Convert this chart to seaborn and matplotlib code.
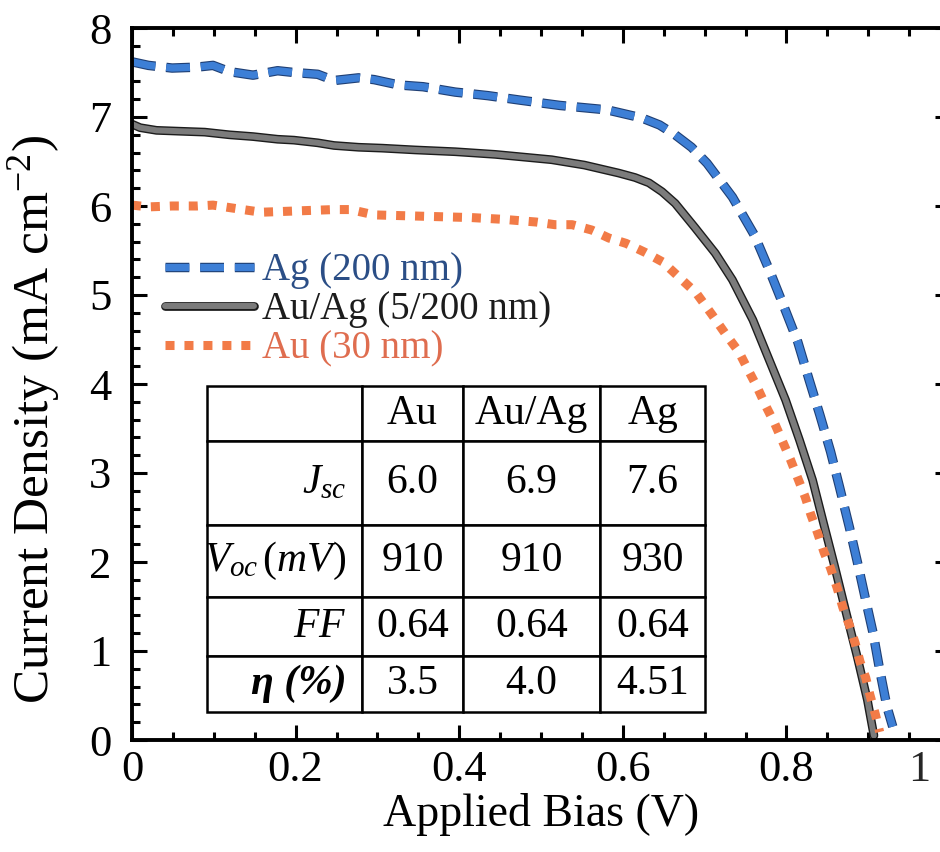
import matplotlib
matplotlib.use("Agg")
import matplotlib.pyplot as plt
import matplotlib.patheffects as pe
from matplotlib.ticker import MultipleLocator
from matplotlib.transforms import offset_copy
import seaborn as sns

# ==========================================
# Data
# ==========================================

bias_ag = [0.000, 0.020, 0.049, 0.079, 0.099, 0.119, 0.148, 0.178, 0.198, 0.227,
           0.247, 0.277, 0.296, 0.326, 0.356, 0.395, 0.435, 0.474, 0.523, 0.581,
           0.623, 0.645, 0.664, 0.684, 0.703, 0.734, 0.761, 0.780, 0.797, 0.814,
           0.828, 0.841, 0.854, 0.865, 0.877, 0.887, 0.897, 0.906, 0.914, 0.923,
           0.930]
j_ag = [7.62, 7.58, 7.55, 7.56, 7.58, 7.51, 7.47, 7.52, 7.50, 7.48,
        7.41, 7.44, 7.42, 7.36, 7.34, 7.28, 7.24, 7.19, 7.13, 7.08,
        6.99, 6.91, 6.80, 6.66, 6.48, 6.10, 5.67, 5.26, 4.87, 4.47,
        4.04, 3.65, 3.24, 2.84, 2.39, 1.99, 1.57, 1.20, 0.79, 0.37,
        0.15]

bias_auag = [0.000, 0.010, 0.030, 0.059, 0.089, 0.119, 0.148, 0.178, 0.198, 0.227,
             0.247, 0.277, 0.306, 0.346, 0.395, 0.444, 0.513, 0.553, 0.595, 0.615,
             0.632, 0.648, 0.664, 0.688, 0.713, 0.734, 0.759, 0.779, 0.799, 0.816,
             0.832, 0.845, 0.859, 0.873, 0.887, 0.899, 0.907]
j_auag = [6.92, 6.88, 6.85, 6.84, 6.83, 6.80, 6.78, 6.75, 6.74, 6.71,
          6.68, 6.66, 6.65, 6.63, 6.61, 6.58, 6.52, 6.46, 6.37, 6.32,
          6.26, 6.16, 6.03, 5.76, 5.47, 5.17, 4.72, 4.27, 3.82, 3.37,
          2.92, 2.45, 1.95, 1.43, 0.92, 0.45, 0.05]

bias_au = [0.000, 0.020, 0.049, 0.079, 0.099, 0.128, 0.158, 0.188, 0.217, 0.247,
           0.267, 0.296, 0.336, 0.375, 0.415, 0.454, 0.494, 0.517, 0.538, 0.562,
           0.583, 0.604, 0.627, 0.649, 0.670, 0.690, 0.709, 0.725, 0.742, 0.752,
           0.764, 0.775, 0.786, 0.796, 0.805, 0.814, 0.823, 0.830, 0.838, 0.846,
           0.854, 0.862, 0.869, 0.877, 0.884, 0.890, 0.897, 0.902, 0.909, 0.914]
j_au = [6.01, 5.99, 6.00, 6.00, 6.01, 5.97, 5.93, 5.94, 5.95, 5.96,
        5.96, 5.90, 5.89, 5.88, 5.87, 5.85, 5.82, 5.79, 5.79, 5.73,
        5.64, 5.58, 5.48, 5.37, 5.19, 5.02, 4.78, 4.57, 4.36, 4.18,
        3.97, 3.75, 3.55, 3.34, 3.15, 2.94, 2.73, 2.53, 2.33, 2.11,
        1.93, 1.71, 1.49, 1.29, 1.09, 0.88, 0.70, 0.51, 0.28, 0.09]

legend_labels = ["Ag (200 nm)", "Au/Ag (5/200 nm)", "Au (30 nm)"]

x_ticks = [0, 0.2, 0.4, 0.6, 0.8, 1.0]
x_tick_labels = ["0", "0.2", "0.4", "0.6", "0.8", "1"]
y_ticks = [0, 1, 2, 3, 4, 5, 6, 7, 8]
y_tick_labels = ["0", "1", "2", "3", "4", "5", "6", "7", "8"]

table_header = ["", "Au", "Au/Ag", "Ag"]
table_params = [r"$J_{sc}$", r"$V_{oc}\,(mV)$", r"$FF$", "\u03b7 (%)"]
jsc = ["6.0", "6.9", "7.6"]
voc = ["910", "910", "930"]
ff = ["0.64", "0.64", "0.64"]
eta = ["3.5", "4.0", "4.51"]

# ==========================================
# Style
# ==========================================

sns.set_theme(style="ticks")
plt.rcParams["font.family"] = ["Liberation Serif", "DejaVu Serif"]
plt.rcParams["mathtext.fontset"] = "custom"
plt.rcParams["mathtext.rm"] = "Liberation Serif"
plt.rcParams["mathtext.it"] = "Liberation Serif:italic"
plt.rcParams["mathtext.bf"] = "Liberation Serif:bold"

blue = "#3d7fd6"
grey = "#7b7b7b"
orange = "#f27b47"
text_colors = ["#2b4e86", "#1c1c1c", "#df6d4f"]

# ==========================================
# Plot
# ==========================================

fig = plt.figure(figsize=(9.4, 8.52), dpi=100)
ax = fig.add_axes([132 / 940, 112 / 852, 818 / 940, 712 / 852])

sns.lineplot(
    x=bias_ag, y=j_ag, ax=ax,
    color=blue, linewidth=5.2, linestyle=(0, (3.3, 1.5)),
    estimator=None, sort=False, label=legend_labels[0],
    path_effects=[pe.Stroke(linewidth=6.8, foreground="#1f3f74"), pe.Normal()]
)

sns.lineplot(
    x=bias_auag, y=j_auag, ax=ax,
    color=grey, linewidth=4.3,
    estimator=None, sort=False, label=legend_labels[1],
    path_effects=[pe.Stroke(linewidth=6.3, foreground="#1c1c1c"), pe.Normal()]
)

sns.lineplot(
    x=bias_au, y=j_au, ax=ax,
    color=orange, linewidth=6.5, linestyle=(0, (1, 1.1)),
    estimator=None, sort=False, label=legend_labels[2]
)

ax.set_xlim(0, 1)
ax.set_ylim(0, 8)

ax.set_xticks(x_ticks)
ax.set_xticklabels(x_tick_labels)
ax.get_xticklabels()[-1].set_visible(False)
ax.set_yticks(y_ticks)
ax.set_yticklabels(y_tick_labels)
ax.xaxis.set_minor_locator(MultipleLocator(0.05))
ax.yaxis.set_minor_locator(MultipleLocator(0.2))

ax.tick_params(which="both", direction="in", top=True, right=True,
               width=2.2, color="black", labelcolor="black")
ax.tick_params(which="major", length=11)
ax.tick_params(which="minor", length=6)
ax.tick_params(axis="x", which="major", labelsize=32, pad=7)
ax.tick_params(axis="y", which="major", labelsize=32, pad=15)

# the "1" label sits left of its tick in the original scan
ax.text(0.962, 0, x_tick_labels[-1], fontsize=32, ha="center", va="top",
        transform=offset_copy(ax.get_xaxis_transform(), fig=fig, y=-7, units="points"))

for s in ax.spines.values():
    s.set_linewidth(2.8)
    s.set_color("black")

ax.set_xlabel("Applied Bias (V)", fontsize=33, labelpad=2, color="black")
ax.set_ylabel("Current Density (mA cm$^{-2}$)", fontsize=37, color="black")
ax.yaxis.set_label_coords(-0.086, 0.45)

leg = ax.legend(
    loc="upper left", bbox_to_anchor=(0.040, 0.685),
    frameon=False, fontsize=28, handlelength=2.3, handletextpad=0.2,
    labelspacing=0.05, borderpad=0, borderaxespad=0
)
for txt, c in zip(leg.get_texts(), text_colors):
    txt.set_color(c)

# ==========================================
# Table of device parameters
# ==========================================

cell_text = [
    table_header,
    [table_params[0]] + jsc,
    [table_params[1]] + voc,
    [table_params[2]] + ff,
    [table_params[3]] + eta,
]

col_px = [155, 101, 137, 105]
row_px = [55, 84, 72, 59, 56]

tbl = ax.table(
    cellText=cell_text,
    cellLoc="center",
    colWidths=[c / sum(col_px) for c in col_px],
    bbox=[(207 - 132) / 818, 28 / 712, sum(col_px) / 818, sum(row_px) / 712],
)
tbl.auto_set_font_size(False)
tbl.set_fontsize(30)

for (r, c), cell in tbl.get_celld().items():
    cell.set_height(row_px[r] / sum(row_px))
    cell.set_linewidth(1.8)
    cell.set_edgecolor("black")
    cell.get_text().set_color("black")
    if c == 0:
        cell.get_text().set_horizontalalignment("right")
    if r == 4 and c == 0:
        cell.get_text().set_fontweight("bold")
        cell.get_text().set_fontstyle("italic")

fig.savefig("out.png", dpi=100)
